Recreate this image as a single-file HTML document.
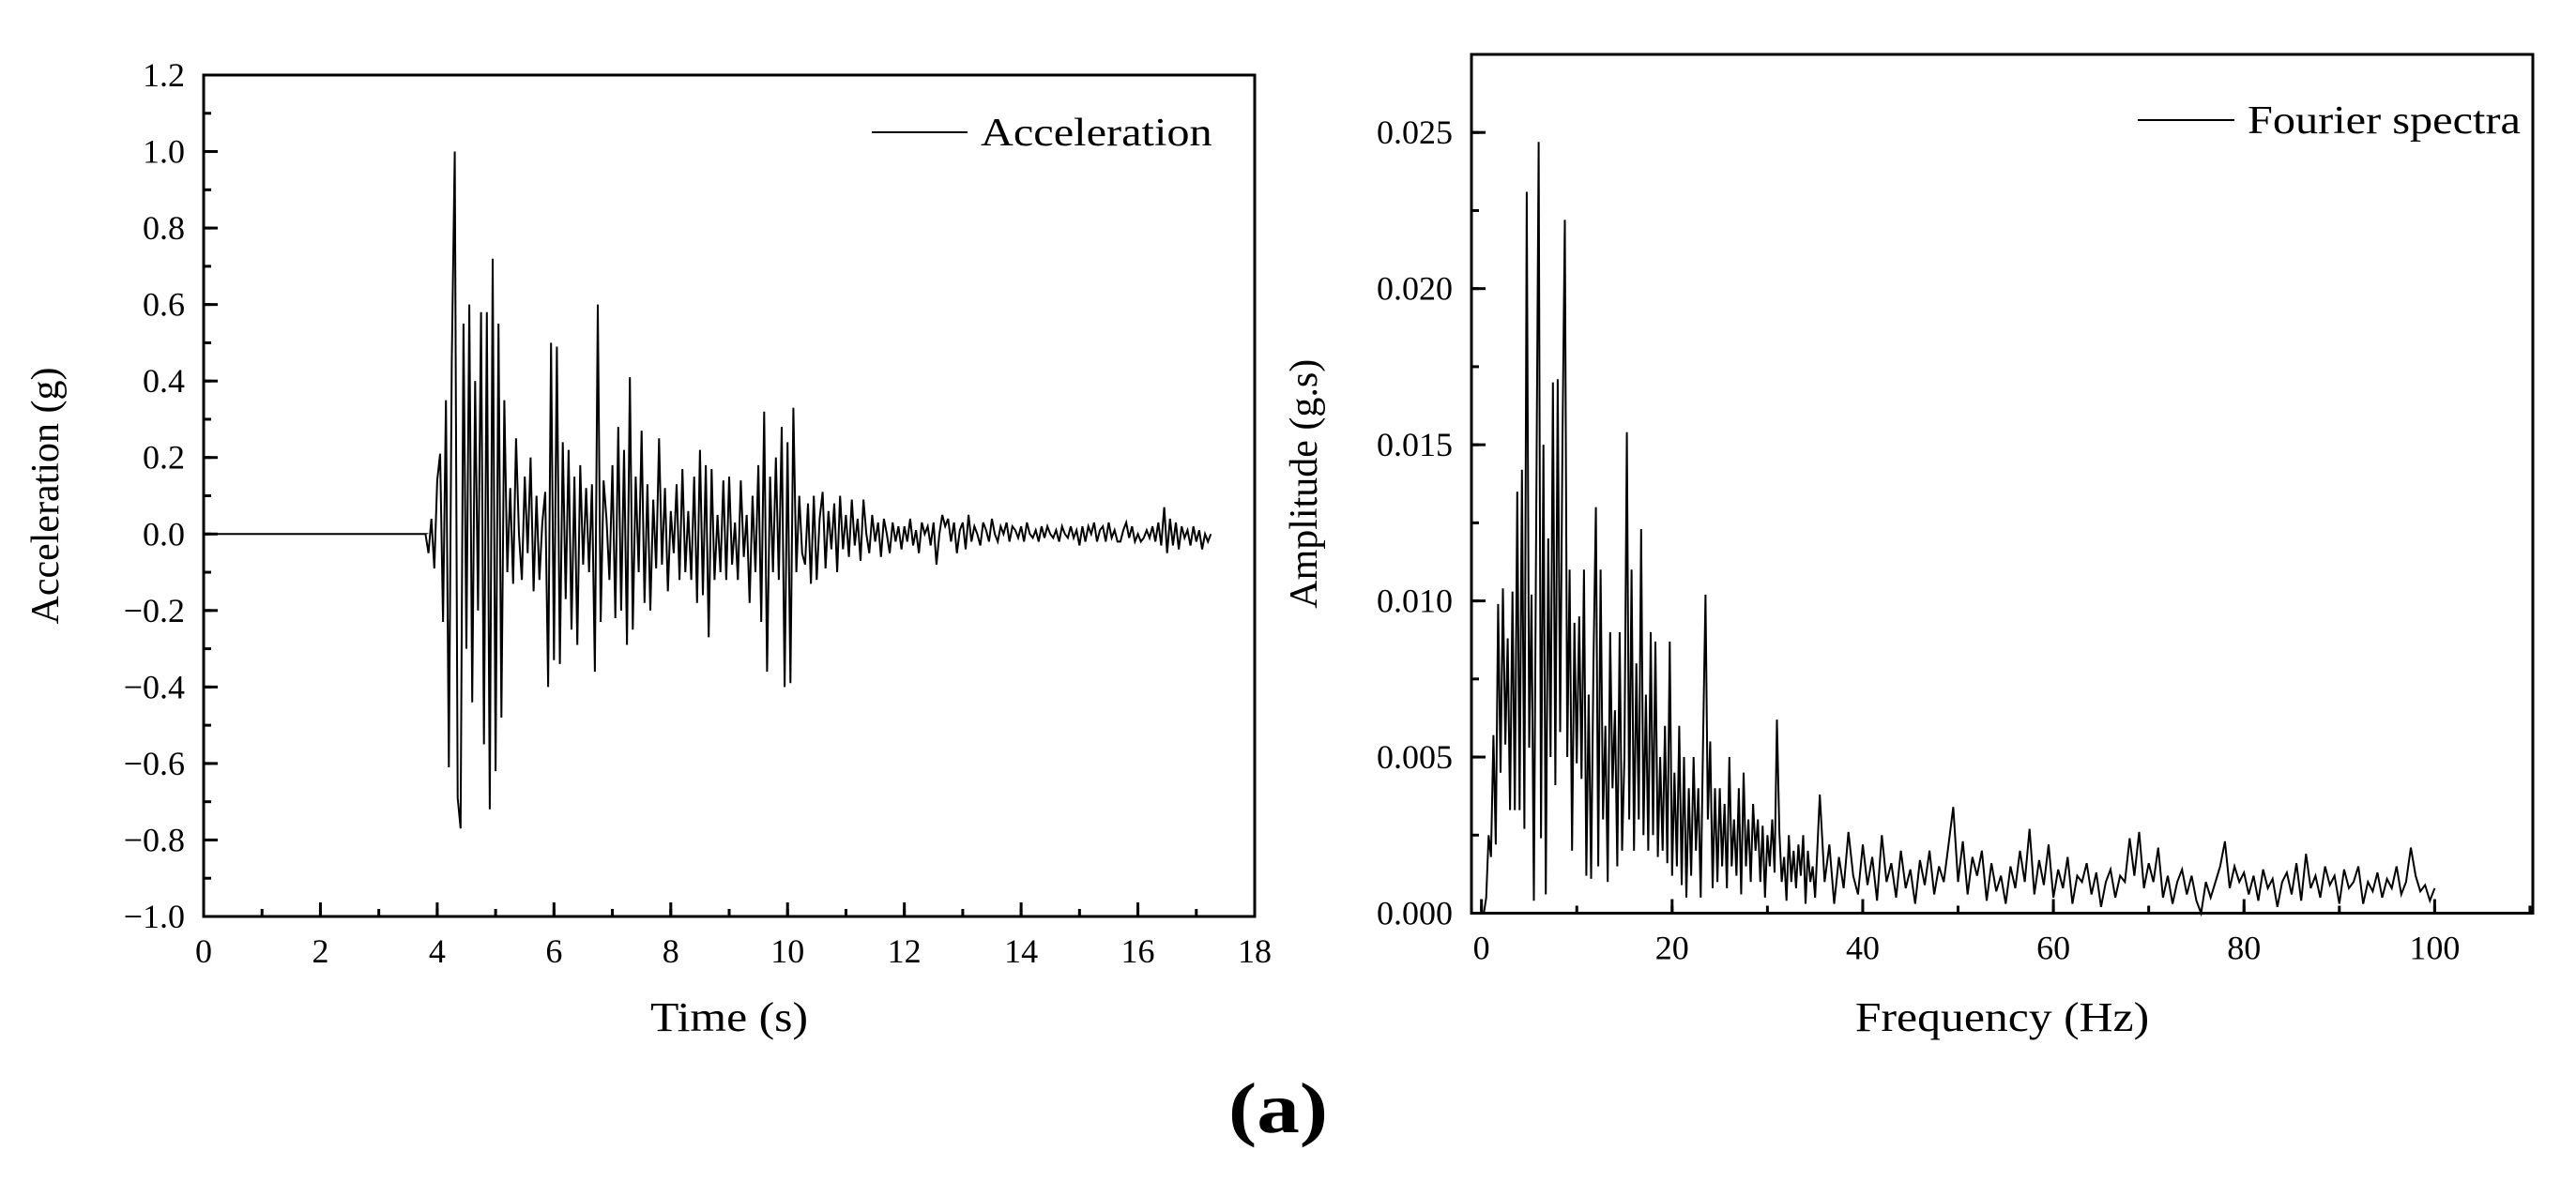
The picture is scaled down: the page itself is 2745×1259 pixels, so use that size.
<!DOCTYPE html>
<html><head><meta charset="utf-8"><style>
html,body{margin:0;padding:0;background:#fff;}
svg{display:block;font-family:"Liberation Serif",serif;}
</style></head><body>
<svg id="fig" width="2745" height="1259" viewBox="0 0 2745 1259" xmlns="http://www.w3.org/2000/svg">
<rect width="2745" height="1259" fill="#fff"/>
<g id="left"></g>
<g id="right"></g>
<text transform="translate(1362 1207) scale(1.2 1)" font-size="76" font-weight="bold" text-anchor="middle">(a)</text>
</svg>
<script>
// ---------- Acceleration data ----------
const accT0 = 3.8, accDt = 0.05;
const accValues = [0,-0.05,0.04,-0.09,0.14,0.21,-0.23,0.35,-0.61,0.45,1.0,-0.69,-0.77,0.55,-0.3,0.6,-0.44,0.4,-0.2,0.58,-0.55,0.58,-0.72,0.72,
-0.62,0.55,-0.48,0.35,-0.1,0.12,-0.13,0.25,0.0,-0.12,0.15,-0.05,0.2,-0.15,0.1,-0.12,0.03,0.11,-0.4,0.5,-0.33,0.49,-0.34,0.24,-0.17,0.22,
-0.25,0.15,-0.29,0.18,-0.08,0.12,-0.1,0.13,-0.36,0.6,-0.23,0.14,0.04,-0.12,0.18,-0.22,0.28,-0.2,0.22,-0.29,0.41,-0.25,0.15,-0.1,0.27,
-0.18,0.13,-0.2,0.09,-0.09,0.25,-0.08,0.12,-0.15,0.06,-0.05,0.13,-0.12,0.17,-0.1,0.06,-0.12,0.15,-0.18,0.22,-0.16,0.18,-0.27,0.17,-0.12,
0.05,-0.1,0.14,-0.12,0.15,-0.08,0.03,-0.12,0.14,-0.06,0.05,-0.18,0.1,-0.1,0.18,-0.23,0.32,-0.36,0.15,-0.1,0.2,-0.12,0.28,-0.4,0.24,-0.39,
0.33,-0.1,0.1,-0.05,-0.08,0.08,-0.13,0.1,-0.12,0.04,0.11,-0.09,0.06,-0.04,0.08,-0.1,0.1,-0.04,0.05,-0.06,0.09,-0.03,0.04,-0.07,0.09,0.0,
-0.05,0.05,-0.02,0.03,-0.06,0.04,0.0,-0.05,0.03,-0.02,0.02,-0.04,0.02,-0.02,0.04,-0.03,0.01,-0.05,0.03,0.0,0.02,-0.03,0.03,-0.08,0.0,
0.05,0.02,0.04,-0.02,0.03,-0.05,0.01,0.03,-0.04,0.05,-0.02,0.02,0.0,-0.03,0.03,0.01,-0.02,0.04,0.0,-0.02,0.02,0.0,0.03,-0.02,0.02,0.01,
-0.01,0.02,-0.02,0.03,0.0,-0.01,0.01,-0.02,0.02,-0.01,0.02,0.0,-0.01,0.01,-0.02,0.02,0.0,-0.01,0.02,-0.01,0.01,-0.03,0.02,-0.02,0.02,0.0,
0.03,-0.02,0.01,0.02,-0.02,0.03,-0.01,0.01,-0.02,-0.02,0.01,0.03,-0.01,0.02,-0.02,0.0,-0.02,-0.01,0.01,-0.01,0.02,-0.02,0.03,-0.03,0.07,
-0.05,0.04,-0.03,0.03,-0.04,0.02,-0.01,0.01,-0.03,0.02,-0.02,0.01,-0.04,0.0,-0.02,0.0];
const accXTicks = [0,2,4,6,8,10,12,14,16,18];
const accYTicks = [-1.0,-0.8,-0.6,-0.4,-0.2,0.0,0.2,0.4,0.6,0.8,1.0,1.2];

// ---------- Fourier data (values in units of 0.001 g.s) ----------
const fsDt1 = 0.25;
const fsLow = [0,0,0.5,2.5,1.8,5.7,2.2,9.9,4.5,10.4,5.4,8.8,3.3,10.3,3.3,13.5,3.3,14.2,2.7,23.1,5.3,10.2,0.4,13.1,24.7,2.4,15.0,0.6,12.0,5.0,
17.0,4.1,17.1,5.8,15.2,22.2,5.0,11.0,2.0,9.3,4.8,9.5,4.3,11.0,1.2,7.0,1.1,8.0,13.0,1.5,11.0,3.0,6.0,1.0,9.0,4.0,6.5,1.5,9.0,2.0,
5.0,15.4,3.0,11.0,2.0,8.0,3.0,12.3,2.5,7.0,2.0,9.0,2.5,8.7,1.8,5.0,2.0,6.0,1.6,8.7,1.2,4.5,1.5,6.0,0.9,5.0,0.5,4.0,1.2,5.0,
2.0,4.0,0.5,5.5,10.2,3.0,5.5,0.8,4.0,1.0,4.0,1.5,3.5,0.8,5.0,1.5,3.0,1.2,4.0,0.6,4.5,1.5,3.0,1.0,3.5,2.0,3.0,1.0,2.8,0.5,
2.5,1.5,3.0,1.3,6.2,2.6,1.0,1.8,0.4,2.5,1.0,2.0,0.8,2.2,1.2,2.5,0.3,2.0,1.0,1.5,0.5];
const fsStart2 = 35.5, fsDt2 = 0.5;
const fsHigh = [3.8,1.0,2.2,0.3,1.8,0.8,2.6,1.2,0.6,2.2,0.9,1.8,0.4,2.5,1.0,1.6,0.5,2.0,0.8,1.4,0.3,1.7,0.9,2.0,0.6,1.5,1.0,2.2,3.4,1.0,
2.3,0.6,1.8,1.2,2.0,0.4,1.6,0.7,1.2,0.3,1.5,0.8,2.0,1.0,2.7,0.6,1.7,0.9,2.2,0.5,1.4,0.8,1.8,0.3,1.2,1.0,1.6,0.6,1.3,0.2,
1.0,1.4,0.5,1.2,1.0,2.4,1.2,2.6,0.8,1.6,1.0,2.1,0.5,1.2,0.3,1.0,1.4,0.6,1.2,0.4,0.0,1.0,0.5,1.0,1.5,2.3,0.8,1.5,1.0,1.3,
0.6,1.2,0.4,1.4,0.8,1.1,0.2,1.0,1.3,0.6,1.6,0.4,1.9,0.8,1.2,0.5,1.5,0.9,1.2,0.3,1.4,0.8,1.0,1.5,0.3,1.0,0.7,1.3,0.5,1.1,
0.8,1.5,0.6,1.0,2.1,1.2,0.7,0.9,0.4,0.8];
const fsXTicks = [0,20,40,60,80,100];
const fsYTicks = [0.000,0.005,0.010,0.015,0.020,0.025];

const NS='http://www.w3.org/2000/svg';
function mk(parent,tag,attrs){const e=document.createElementNS(NS,tag);for(const k in attrs)e.setAttribute(k,attrs[k]);parent.appendChild(e);return e;}

function drawAxes(g,box,xmin,xmax,ymin,ymax,xTicks,xMinorStep,yTicks,yMinorStep,yFmt,xTitle,yTitle,yTitleX,yLabelX){
  const sx=v=>box.l+(v-xmin)/(xmax-xmin)*(box.r-box.l);
  const sy=v=>box.b-(v-ymin)/(ymax-ymin)*(box.b-box.t);
  for(let v=xTicks[0];v<=xmax+1e-9;v+=xMinorStep){const x=sx(v);if(x<box.l-1||x>box.r+1)continue;
    const t=mk(g,'line',{x1:x,x2:x,y1:box.b,y2:box.b-8,stroke:'#000','stroke-width':3});
    
    }
  for(let v=ymin;v<=ymax+1e-9;v+=yMinorStep){const y=sy(v);
    const t=mk(g,'line',{x1:box.l,x2:box.l+8,y1:y,y2:y,stroke:'#000','stroke-width':3});
    
    }
  xTicks.forEach(v=>{const x=sx(v);
    const t=mk(g,'line',{x1:x,x2:x,y1:box.b,y2:box.b-15,stroke:'#000','stroke-width':3});
    
    
    const l=mk(g,'text',{x:x,y:box.b+49,'font-size':36,'text-anchor':'middle'});l.textContent=String(v);
    
    });
  yTicks.forEach(v=>{const y=sy(v);
    const t=mk(g,'line',{x1:box.l,x2:box.l+15,y1:y,y2:y,stroke:'#000','stroke-width':3});
    
    
    const l=mk(g,'text',{x:yLabelX,y:y+12,'font-size':36,'text-anchor':'end'});l.textContent=yFmt(v);
    
    });
  const xt=mk(g,'text',{transform:`translate(${(box.l+box.r)/2} 1099) scale(1.13 1)`,'font-size':44,'text-anchor':'middle'});xt.textContent=xTitle;
  
  
  const cy=(box.t+box.b)/2;
  const yt=mk(g,'text',{x:yTitleX,y:cy,'font-size':42,'text-anchor':'middle',transform:`rotate(-90 ${yTitleX} ${cy})`});yt.textContent=yTitle;
  
  
  return {sx,sy};
}
function frame(g,box){const f=mk(g,'rect',{x:box.l,y:box.t,width:box.r-box.l,height:box.b-box.t,fill:'none',stroke:'#000','stroke-width':3});
  
  }
function legend(g,x1,x2,y,label){
  const ln=mk(g,'line',{x1:x1,x2:x2,y1:y,y2:y,stroke:'#000','stroke-width':2});
  
  
  const t=mk(g,'text',{transform:`translate(${x2+14} ${y+14}) scale(1.15 1)`,'font-size':42});t.textContent=label;
  
  
}

// Left chart
(function(){
  const g=document.getElementById('left');
  const box={l:217,r:1337,t:80,b:977};
  const fmt=v=>(v<0?'\u2212':'')+Math.abs(v).toFixed(1);
  const {sx,sy}=drawAxes(g,box,0,18,-1.0,1.2,accXTicks,1,accYTicks,0.1,fmt,'Time (s)','Acceleration (g)',62,197);
  let d=`M${sx(0)},${sy(0)} L${sx(accT0)},${sy(0)}`;
  accValues.forEach((v,i)=>{d+=` L${sx(accT0+i*accDt).toFixed(1)},${sy(v).toFixed(1)}`;});
  const p=mk(g,'path',{d:d,fill:'none',stroke:'#000','stroke-width':2,'stroke-linejoin':'miter'});
  
  
  frame(g,box);
  legend(g,929,1031,141,'Acceleration');
})();

// Right chart
(function(){
  const g=document.getElementById('right');
  const box={l:1568,r:2699,t:58,b:973.5};
  const fmt=v=>v.toFixed(3);
  const {sx,sy}=drawAxes(g,box,-1.05,110.3,0,0.0275,fsXTicks,10,fsYTicks,0.0025,fmt,'Frequency (Hz)','Amplitude (g.s)',1403,1548);
  let pts=[];
  fsLow.forEach((v,i)=>pts.push([i*fsDt1,v/1000]));
  fsHigh.forEach((v,i)=>pts.push([fsStart2+i*fsDt2,v/1000]));
  const d='M'+pts.map(p=>sx(p[0]).toFixed(1)+','+sy(p[1]).toFixed(1)).join(' L');
  const p=mk(g,'path',{d:d,fill:'none',stroke:'#000','stroke-width':2});
  
  
  frame(g,box);
  legend(g,2278,2381,128,'Fourier spectra');
})();
</script>
</body></html>
